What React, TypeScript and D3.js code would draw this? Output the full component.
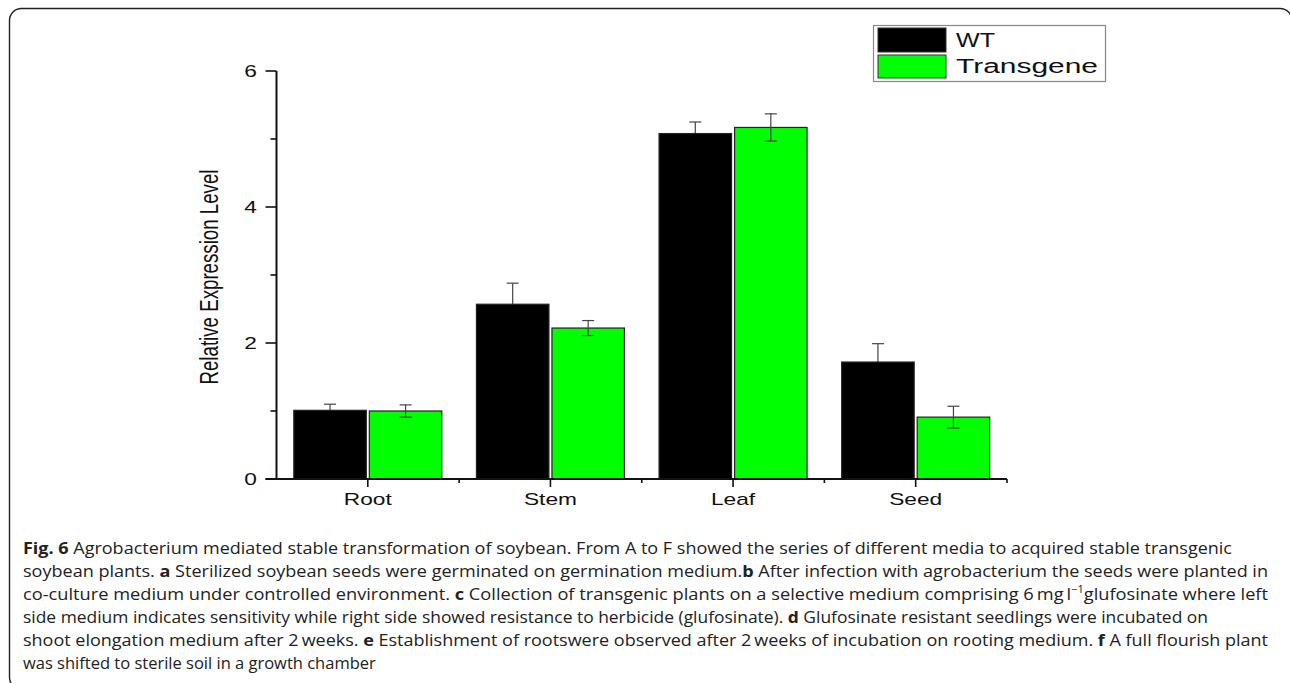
import React from 'react';
import * as d3 from 'd3';

const categories = ['Root', 'Stem', 'Leaf', 'Seed'];
const seriesNames = ['WT', 'Transgene'];
const seriesColors = ['#000000', '#00ff00'];
const wtValues = [1.01, 2.57, 5.08, 1.72];
const wtErrors = [0.09, 0.31, 0.17, 0.27];
const tgValues = [1.0, 2.22, 5.17, 0.91];
const tgErrors = [0.09, 0.11, 0.2, 0.16];
const yMajorTicks = [0, 2, 4, 6];
const yMinorTicks = [1, 3, 5];
const yLabel = 'Relative Expression Level';

type Seg = { t: string; b?: boolean; sup?: boolean };
const captionLines: Seg[][] = [
  [{ t: 'Fig. 6', b: true }, { t: ' Agrobacterium mediated stable transformation of soybean. From A to F showed the series of different media to acquired stable transgenic' }],
  [{ t: 'soybean plants. ' }, { t: 'a', b: true }, { t: ' Sterilized soybean seeds were germinated on germination medium.' }, { t: 'b', b: true }, { t: ' After infection with agrobacterium the seeds were planted in' }],
  [{ t: 'co-culture medium under controlled environment. ' }, { t: 'c', b: true }, { t: ' Collection of transgenic plants on a selective medium comprising 6\u2009mg\u2009l' }, { t: '\u22121', sup: true }, { t: 'glufosinate where left' }],
  [{ t: 'side medium indicates sensitivity while right side showed resistance to herbicide (glufosinate). ' }, { t: 'd', b: true }, { t: ' Glufosinate resistant seedlings were incubated on' }],
  [{ t: 'shoot elongation medium after 2\u2009weeks. ' }, { t: 'e', b: true }, { t: ' Establishment of rootswere observed after 2\u2009weeks of incubation on rooting medium. ' }, { t: 'f', b: true }, { t: ' A full flourish plant' }],
  [{ t: 'was shifted to sterile soil in a growth chamber' }],
];
const captionLineEnds = [1232, 1268, 1268, 1208, 1268, 0];

export default function App() {
  const W = 1290, H = 683;
  const axisX = 276.5, axisY = 479, xEnd = 1007, yTop = 71;
  const y = d3.scaleLinear().domain([0, 6]).range([axisY, yTop]);
  const x0 = d3.scaleBand<string>().domain(categories).range([axisX, xEnd]).padding(0);
  const bw = x0.bandwidth();
  const x1 = d3.scaleBand<string>().domain(seriesNames).range([-74, 74]).paddingInner(0.04);
  const values = [wtValues, tgValues];
  const errors = [wtErrors, tgErrors];
  const chartFont = "'Liberation Sans', Arial, sans-serif";
  const capFont = "'Open Sans', 'Noto Sans', sans-serif";
  const xs = 1.42;

  const errorBar = (i: number, k: number) => {
    const c = categories[i];
    const cx = (x0(c) as number) + bw / 2;
    const bx = cx + (x1(seriesNames[k]) as number);
    const v = values[k][i];
    const e = errors[k][i];
    const ex = bx + x1.bandwidth() / 2;
    return (
      <g key={'e' + k + c}>
        <line x1={ex} x2={ex} y1={y(v + e)} y2={y(v - e)} stroke="#444" strokeWidth={1.2} />
        <line x1={ex - 6} x2={ex + 6} y1={y(v + e)} y2={y(v + e)} stroke="#444" strokeWidth={1.2} />
        <line x1={ex - 6} x2={ex + 6} y1={y(v - e)} y2={y(v - e)} stroke="#444" strokeWidth={1.2} />
      </g>
    );
  };

  return (
    <svg width={W} height={H} style={{ position: 'absolute', left: 0, top: 0, background: '#fff' }}>
      <rect x={9.5} y={8.5} width={1282.5} height={681} rx={12} ry={12} fill="none" stroke="#222" strokeWidth={1.4} />

      {/* WT error bars under the bars (lower half hidden by black bar) */}
      {categories.map((c, i) => errorBar(i, 0))}

      {/* bars */}
      {categories.map((c, i) => {
        const cx = (x0(c) as number) + bw / 2;
        return (
          <g key={c}>
            {seriesNames.map((s, k) => {
              const bx = cx + (x1(s) as number);
              const v = values[k][i];
              return (
                <rect key={s} x={bx} y={y(v)} width={x1.bandwidth()} height={axisY - y(v)} fill={seriesColors[k]} stroke="#222" strokeWidth={1.2} />
              );
            })}
          </g>
        );
      })}

      {/* Transgene error bars over the bars */}
      {categories.map((c, i) => errorBar(i, 1))}

      {/* y axis */}
      <line x1={axisX} x2={axisX} y1={yTop} y2={axisY} stroke="#111" strokeWidth={2} />
      {yMajorTicks.map(t => (
        <g key={'ym' + t}>
          <line x1={axisX - 11} x2={axisX} y1={y(t)} y2={y(t)} stroke="#111" strokeWidth={1.6} />
          <text transform={`translate(257,${y(t) + 5.5}) scale(${xs},1)`} textAnchor="end" fontFamily={chartFont} fontSize={16} fill="#111">{t}</text>
        </g>
      ))}
      {yMinorTicks.map(t => (
        <line key={'yn' + t} x1={axisX - 6} x2={axisX} y1={y(t)} y2={y(t)} stroke="#111" strokeWidth={1.6} />
      ))}
      <text transform={`translate(218,${(yTop + axisY) / 2 + 2}) scale(1.4,1) rotate(-90)`} textAnchor="middle" fontFamily={chartFont} fontSize={18.7} fill="#111">{yLabel}</text>

      {/* x axis */}
      <line x1={axisX - 11} x2={xEnd} y1={axisY} y2={axisY} stroke="#111" strokeWidth={2} />
      {categories.map(c => {
        const cx = (x0(c) as number) + bw / 2;
        const bx = (x0(c) as number) + bw;
        return (
          <g key={'xt' + c}>
            <line x1={cx} x2={cx} y1={axisY} y2={axisY + 8} stroke="#111" strokeWidth={1.6} />
            <line x1={bx} x2={bx} y1={axisY} y2={axisY + 4} stroke="#111" strokeWidth={1.6} />
            <text transform={`translate(${cx},505) scale(${xs},1)`} textAnchor="middle" fontFamily={chartFont} fontSize={16} fill="#111">{c}</text>
          </g>
        );
      })}

      {/* legend */}
      <g>
        <rect x={873.5} y={25.5} width={232} height={56} fill="#fff" stroke="#888" strokeWidth={1.2} />
        <rect x={878} y={28} width={68} height={24} fill={seriesColors[0]} stroke="#333" strokeWidth={1} />
        <rect x={878} y={55} width={68} height={23} fill={seriesColors[1]} stroke="#333" strokeWidth={1} />
        <text x={956} y={47} fontFamily={chartFont} fontSize={20} textLength={39} lengthAdjust="spacingAndGlyphs" fill="#111">{seriesNames[0]}</text>
        <text x={956} y={73} fontFamily={chartFont} fontSize={20} textLength={142} lengthAdjust="spacingAndGlyphs" fill="#111">{seriesNames[1]}</text>
      </g>

      {/* caption */}
      {captionLines.map((line, li) => {
        const end = captionLineEnds[li];
        const extra: any = end > 0 ? { textLength: end - 23, lengthAdjust: 'spacingAndGlyphs' } : {};
        return (
          <text key={li} x={23} y={554 + li * 23} fontFamily={capFont} fontSize={16.5} fill="#222" {...extra}>
            {line.map((s, si) => (
              s.sup
                ? <tspan key={si} fontSize={10} dy={-7}>{s.t}</tspan>
                : <tspan key={si} fontWeight={s.b ? 700 : 400} dy={si > 0 && line[si - 1].sup ? 7 : 0}>{s.t}</tspan>
            ))}
          </text>
        );
      })}
    </svg>
  );
}
